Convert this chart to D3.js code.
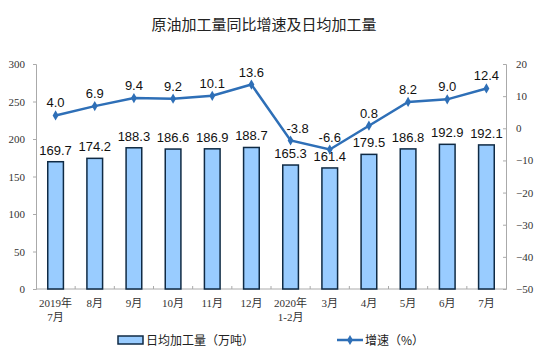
<!DOCTYPE html>
<meta charset="utf-8">
<style>
  body { margin: 0; background: #fff; }
  svg text { font-family: "Liberation Sans", Arial, "Noto Sans CJK SC", sans-serif; }
  .tick text, .cat text { font-family: "Liberation Serif", "Noto Sans CJK SC", serif; fill: #333; }
</style>
<svg width="544" height="361"></svg>
<script src="https://cdn.jsdelivr.net/npm/d3@7"></script>
<script>

var months = [["2019年", "7月"], ["8月"], ["9月"], ["10月"], ["11月"], ["12月"],
              ["2020年", "1-2月"], ["3月"], ["4月"], ["5月"], ["6月"], ["7月"]]
var dailyOutput = [169.7, 174.2, 188.3, 186.6, 186.9, 188.7, 165.3, 161.4, 179.5, 186.8, 192.9, 192.1]
var growth = [4.0, 6.9, 9.4, 9.2, 10.1, 13.6, -3.8, -6.6, 0.8, 8.2, 9.0, 12.4]
var leftTicks = [0, 50, 100, 150, 200, 250, 300]
var rightTicks = [-50, -40, -30, -20, -10, 0, 10, 20]

var svg = d3.select('svg')
var plotLeft = 36, plotRight = 506, plotTop = 64, plotBottom = 289

var x = d3.scaleBand().domain(d3.range(months.length)).range([plotLeft, plotRight]).paddingInner(0.6).paddingOuter(0.3)
var xb = d3.scaleBand().domain(d3.range(months.length)).range([plotLeft, plotRight])
var y = d3.scaleLinear().domain([0, 300]).range([plotBottom, plotTop])
var y2 = d3.scaleLinear().domain([-50, 20]).range([plotBottom, plotTop])

// title
svg.append('text').attr('x', 264).attr('y', 30).attr('text-anchor', 'middle')
    .attr('font-size', 15).attr('fill', '#222')
    .style('font-family', '"Noto Sans CJK SC", sans-serif')
    .text('原油加工量同比增速及日均加工量')

// axes
var yAxis = svg.append('g').attr('transform', 'translate(' + plotLeft + ',0)')
    .call(d3.axisLeft(y).tickValues(leftTicks).tickSize(3).tickPadding(8))
var y2Axis = svg.append('g').attr('transform', 'translate(' + plotRight + ',0)')
    .call(d3.axisRight(y2).tickValues(rightTicks).tickSize(-3).tickPadding(10))
;[yAxis, y2Axis].forEach(function (g) {
    g.select('.domain').attr('stroke', '#aaa')
    g.selectAll('.tick line').attr('stroke', '#aaa')
    g.selectAll('.tick text').attr('font-size', 11)
})

// x axis line + small tick marks at category boundaries
svg.append('line').attr('x1', plotLeft).attr('x2', plotRight).attr('y1', plotBottom).attr('y2', plotBottom).attr('stroke', '#aaa')
svg.append('g').selectAll('line').data(d3.range(1, months.length)).enter().append('line')
    .attr('x1', function (i) { return xb(i) }).attr('x2', function (i) { return xb(i) })
    .attr('y1', plotBottom).attr('y2', plotBottom - 3).attr('stroke', '#aaa')

// category labels
var cat = svg.append('g').attr('class', 'cat')
months.forEach(function (lines, i) {
    lines.forEach(function (t, j) {
        cat.append('text').attr('x', xb(i) + xb.bandwidth() / 2).attr('y', 307 + j * 14)
            .attr('text-anchor', 'middle').attr('font-size', 11).text(t)
    })
})

// bars
svg.append('g').selectAll('rect').data(dailyOutput).enter().append('rect')
    .attr('x', function (d, i) { return x(i) })
    .attr('width', x.bandwidth())
    .attr('y', function (d) { return y(d) })
    .attr('height', function (d) { return plotBottom - y(d) })
    .attr('fill', '#99ccff').attr('stroke', '#0f2a44').attr('stroke-width', 1.5)

svg.append('g').selectAll('text').data(dailyOutput).enter().append('text')
    .attr('x', function (d, i) { return x(i) + x.bandwidth() / 2 })
    .attr('y', function (d) { return y(d) - 7 })
    .attr('text-anchor', 'middle').attr('font-size', 13).attr('fill', '#111')
    .text(function (d) { return d.toFixed(1) })

// growth line
var cx = function (i) { return xb(i) + xb.bandwidth() / 2 }
var line = d3.line().x(function (d, i) { return cx(i) }).y(function (d) { return y2(d) })
svg.append('path').datum(growth).attr('d', line).attr('fill', 'none')
    .attr('stroke', '#2e6fb7').attr('stroke-width', 2.5)
var diamond = d3.symbol().type(d3.symbolDiamond).size(30)
svg.append('g').selectAll('path').data(growth).enter().append('path')
    .attr('d', diamond)
    .attr('transform', function (d, i) { return 'translate(' + cx(i) + ',' + y2(d) + ')' })
    .attr('fill', '#2e6fb7')
svg.append('g').selectAll('text').data(growth).enter().append('text')
    .attr('x', function (d, i) { return cx(i) + (i === 6 ? 7 : 0) })  // 1-2月 label nudged right off the line
    .attr('y', function (d) { return y2(d) - 8 })
    .attr('text-anchor', 'middle').attr('font-size', 13).attr('fill', '#111')
    .text(function (d) { return d.toFixed(1) })

// legend
var lg = svg.append('g').attr('font-size', 12).attr('fill', '#222')
lg.append('rect').attr('x', 118).attr('y', 336).attr('width', 25).attr('height', 8)
    .attr('fill', '#99ccff').attr('stroke', '#0f2a44').attr('stroke-width', 1.5)
lg.append('text').attr('x', 146).attr('y', 345).attr('fill', '#222')
    .style('font-family', '"Noto Sans CJK SC", sans-serif').text('日均加工量（万吨）')
lg.append('line').attr('x1', 337).attr('x2', 363).attr('y1', 340).attr('y2', 340)
    .attr('stroke', '#2e6fb7').attr('stroke-width', 2.5)
lg.append('path').attr('d', diamond).attr('transform', 'translate(350,340)').attr('fill', '#2e6fb7')
lg.append('text').attr('x', 365).attr('y', 345).attr('fill', '#222')
    .style('font-family', '"Noto Sans CJK SC", sans-serif').text('增速（%）')

</script>
